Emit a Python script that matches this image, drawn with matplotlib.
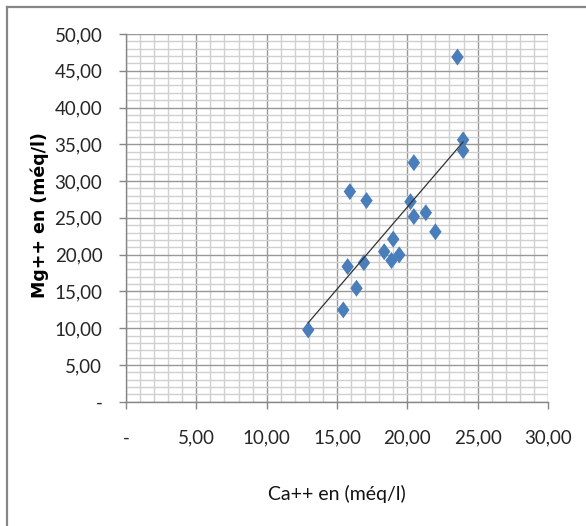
import numpy as np
import matplotlib
matplotlib.use("Agg")
import matplotlib.pyplot as plt
from matplotlib import font_manager
from matplotlib.path import Path
from matplotlib.ticker import MultipleLocator, FuncFormatter
from matplotlib.lines import Line2D

# Ca++ / Mg++ (méq/l)
ca = [12.96, 15.45, 15.76, 16.39, 15.92, 17.10, 16.92, 18.36, 18.88, 19.00,
      19.43, 20.23, 20.47, 20.47, 21.32, 22.00, 23.57, 23.97, 23.97]
mg = [9.76, 12.48, 18.37, 15.43, 28.57, 27.35, 18.90, 20.40, 19.20, 22.10,
      19.96, 27.20, 25.17, 32.50, 25.70, 23.10, 46.86, 35.60, 34.15]

x_label = "Ca++ en (méq/l)"
y_label = "Mg++ en (méq/l)"

blue = '#4A7EBB'

# narrow font like Calibri if we have one
try:
    font_manager.findfont('Liberation Sans Narrow', fallback_to_default=False)
    tick_font = 'Liberation Sans Narrow'
    tick_size = 13
except Exception:
    tick_font = 'Lato'
    tick_size = 13.5


def fr_fmt(v, pos):
    if abs(v) < 1e-9:
        return "-"
    return ("%.2f" % v).replace('.', ',')


# diamond narrower than it is tall, as Excel draws it
diamond = Path([(0, 1), (0.73, 0), (0, -1), (-0.73, 0), (0, 1)],
               [Path.MOVETO, Path.LINETO, Path.LINETO, Path.LINETO, Path.CLOSEPOLY])

fig = plt.figure(figsize=(5.86, 5.26), dpi=100)
ax = fig.add_axes([0.215, 0.2363, 0.72, 0.6991])

ax.set_xlim(0, 30)
ax.set_ylim(0, 50)
ax.xaxis.set_major_locator(MultipleLocator(5))
ax.yaxis.set_major_locator(MultipleLocator(5))
ax.xaxis.set_minor_locator(MultipleLocator(1))
ax.yaxis.set_minor_locator(MultipleLocator(1))
ax.xaxis.set_major_formatter(FuncFormatter(fr_fmt))
ax.yaxis.set_major_formatter(FuncFormatter(fr_fmt))

ax.grid(which='minor', color='#d0d0d0', linewidth=1.0)
ax.grid(which='major', color='#989898', linewidth=1.0)
ax.set_axisbelow(True)

for s in ['top', 'right']:
    ax.spines[s].set_visible(False)
for s in ['left', 'bottom']:
    ax.spines[s].set_color('#868686')
    ax.spines[s].set_linewidth(1.0)

ax.tick_params(which='major', direction='out', length=5, color='#868686', width=1)
ax.tick_params(which='minor', length=0)
ax.tick_params(axis='x', pad=15)
ax.tick_params(axis='y', pad=12)
for lab in ax.get_xticklabels() + ax.get_yticklabels():
    lab.set_family(tick_font)
    lab.set_fontsize(tick_size)
    lab.set_color('#262626')

ax.scatter(ca, mg, marker=diamond, s=150, color=blue, edgecolors='none', zorder=3)

# linear trend line over the data range
coef = np.polyfit(ca, mg, 1)
xs = np.array([min(ca), max(ca)])
ax.plot(xs, np.polyval(coef, xs), color='#333333', linewidth=0.9, zorder=4)

ax.set_xlabel(x_label, family=tick_font, fontsize=tick_size + 0.5, color='#111111')
ax.xaxis.set_label_coords(0.5, -0.225)
ax.set_ylabel(y_label, family='DejaVu Sans', fontweight='bold', fontsize=12.5)
ax.yaxis.set_label_coords(-0.183, 0.507)

# chart area border (right/bottom fall outside the image)
fig.add_artist(Line2D([7 / 586, 1.0], [1 - 7 / 526, 1 - 7 / 526],
                      transform=fig.transFigure, color='#868686', linewidth=1.6))
fig.add_artist(Line2D([7 / 586, 7 / 586], [0, 1 - 7 / 526],
                      transform=fig.transFigure, color='#868686', linewidth=1.6))

plt.savefig('out.png', dpi=100)
